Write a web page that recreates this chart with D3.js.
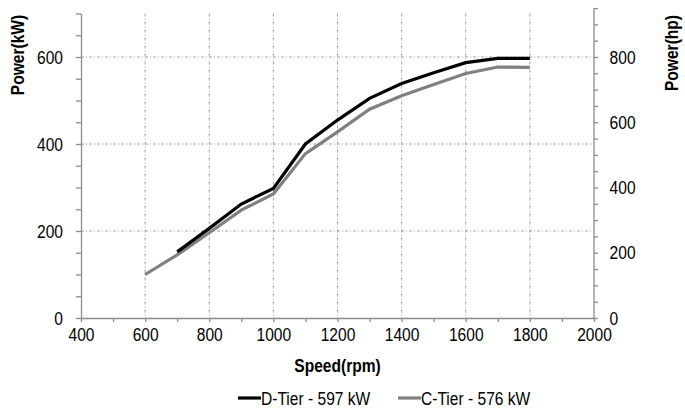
<!DOCTYPE html>
<html>
<head>
<meta charset="utf-8">
<script src="https://cdn.jsdelivr.net/npm/d3@7"></script>
<style>
  body { margin: 0; background: #fff; }
  svg text { font-family: "Liberation Sans", Arial, sans-serif; fill: #000; }
</style>
</head>
<body>
<div id="chart"></div>
<script>
// data
const speedD = [700, 800, 900, 1000, 1100, 1200, 1300, 1400, 1500, 1600, 1700, 1800];
const powerD = [152, 206, 262, 298, 400, 455, 505, 539, 564, 587, 597, 597];
const speedC = [600, 700, 800, 900, 1000, 1100, 1200, 1300, 1400, 1500, 1600, 1700, 1800];
const powerC = [100, 145, 196, 248, 285, 378, 428, 480, 511, 537, 562, 577, 576];

const xTicks = [400, 600, 800, 1000, 1200, 1400, 1600, 1800, 2000];
const kwTicks = [0, 200, 400, 600];
const hpTicks = [0, 200, 400, 600, 800];
const seriesNames = ["D-Tier - 597 kW", "C-Tier - 576 kW"];
const seriesColors = ["#000000", "#808080"];

const width = 685, height = 415;
const left = 81, right = 594, bottom = 318;
const squeeze = 0.82; // narrow-looking type, no condensed font installed

const svg = d3.select("#chart").append("svg")
  .attr("width", width)
  .attr("height", height);

const x = d3.scaleLinear().domain([400, 2000]).range([left, right]);
const y = d3.scaleLinear().domain([0, 700]).range([bottom, 13.5]);
// 800 hp sits on the same line as 600 kW
const yHp = d3.scaleLinear().domain([0, 800]).range([bottom, y(600)]);
const hpTop = 950;

// grid
const grid = svg.append("g")
  .attr("stroke", "#a0a0a0")
  .attr("stroke-width", 1)
  .attr("stroke-dasharray", "3,2,1,2");

grid.selectAll(".gx")
  .data(xTicks.filter(d => d > 400 && d < 2000))
  .enter().append("line")
  .attr("x1", d => x(d)).attr("x2", d => x(d))
  .attr("y1", y(700)).attr("y2", bottom);

grid.selectAll(".gy")
  .data(kwTicks.filter(d => d > 0))
  .enter().append("line")
  .attr("x1", left).attr("x2", right)
  .attr("y1", d => y(d)).attr("y2", d => y(d));

// axes
function styleAxis(g) {
  g.selectAll("path, line").attr("stroke", "#8c8c8c").attr("stroke-width", 1.3);
  g.selectAll("text")
    .style("font-size", "19px")
    .attr("fill", "#000")
    .attr("transform", `scale(${squeeze},1)`);
}

svg.append("g")
  .attr("transform", `translate(0, ${bottom})`)
  .call(d3.axisBottom(x)
    .tickValues(d3.range(400, 2001, 100))
    .tickFormat(d => xTicks.includes(d) ? d : "")
    .tickSize(4).tickSizeOuter(0).tickPadding(6))
  .call(styleAxis);

svg.append("g")
  .attr("transform", `translate(${left}, 0)`)
  .call(d3.axisLeft(y)
    .tickValues(d3.range(0, 701, 50))
    .tickFormat(d => kwTicks.includes(d) ? d : "")
    .tickSize(5).tickSizeOuter(0).tickPadding(17))
  .call(styleAxis);

svg.append("g")
  .attr("transform", `translate(${right}, 0)`)
  .call(d3.axisRight(yHp)
    .tickValues(d3.range(0, hpTop + 1, 50))
    .tickFormat(d => hpTicks.includes(d) ? d : "")
    .tickSize(4).tickSizeOuter(0).tickPadding(15))
  .call(g => g.select(".domain").attr("d", `M0,${yHp(0)}V${yHp(hpTop)}`))
  .call(styleAxis);

// lines
const line = d3.line()
  .x(d => x(d[0]))
  .y(d => y(d[1]));

svg.append("path")
  .datum(speedC.map((s, i) => [s, powerC[i]]))
  .attr("fill", "none")
  .attr("stroke", seriesColors[1])
  .attr("stroke-width", 3.2)
  .attr("d", line);

svg.append("path")
  .datum(speedD.map((s, i) => [s, powerD[i]]))
  .attr("fill", "none")
  .attr("stroke", seriesColors[0])
  .attr("stroke-width", 3.2)
  .attr("d", line);

// titles
svg.append("text")
  .attr("transform", `translate(${(left + right) / 2}, 372) scale(${squeeze},1)`)
  .attr("text-anchor", "middle")
  .style("font-size", "19px")
  .style("font-weight", "bold")
  .text("Speed(rpm)");

svg.append("text")
  .attr("transform", `translate(24, 55) rotate(-90) scale(${squeeze},1)`)
  .attr("text-anchor", "middle")
  .style("font-size", "19px")
  .style("font-weight", "bold")
  .text("Power(kW)");

svg.append("text")
  .attr("transform", `translate(678, 53) rotate(-90) scale(${squeeze},1)`)
  .attr("text-anchor", "middle")
  .style("font-size", "19px")
  .style("font-weight", "bold")
  .text("Power(hp)");

// legend
const legend = svg.append("g")
  .attr("transform", "translate(238, 398)");

const item = legend.selectAll(".legend-item")
  .data(seriesNames)
  .enter().append("g")
  .attr("class", "legend-item")
  .attr("transform", (d, i) => `translate(${i * 160}, 0)`);

item.append("line")
  .attr("x1", 0).attr("x2", 23)
  .attr("y1", 0).attr("y2", 0)
  .attr("stroke", (d, i) => seriesColors[i])
  .attr("stroke-width", 3.2);

item.append("text")
  .attr("transform", `translate(23, 7) scale(${squeeze},1)`)
  .style("font-size", "19px")
  .text(d => d);
</script>
</body>
</html>
